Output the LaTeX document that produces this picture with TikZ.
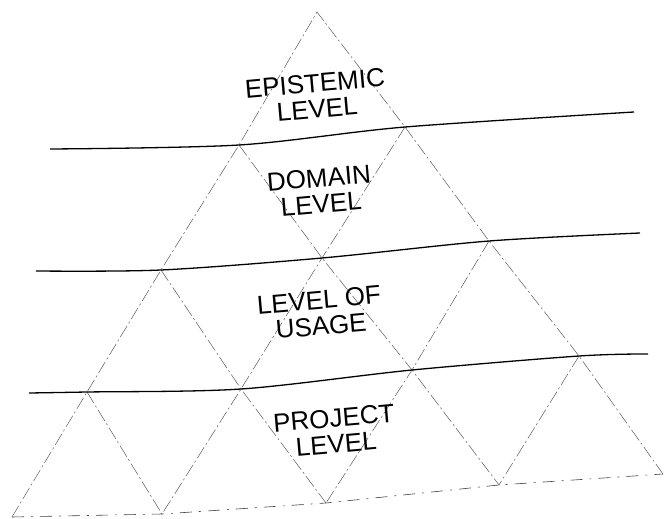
\documentclass[tikz,border=0pt]{standalone}
\usepackage{fontspec}
\setmainfont{Liberation Sans}
\begin{document}
\begin{tikzpicture}[x=1pt,y=-1pt,
  grid/.style={draw=black!65, line width=0.5pt, dash pattern=on 13pt off 3pt on 2pt off 3pt},
  band/.style={draw=black, line width=1.3pt},
  base/.style={draw=black!75, line width=0.6pt, dash pattern=on 12pt off 7pt on 2pt off 7pt},
  levellabel/.style={align=center, font=\fontsize{26}{26}\selectfont, rotate=5, inner sep=0pt}]
\useasboundingbox (0,0) rectangle (669,519);
% vertices of the triangular grid, row by row
\coordinate (a)  at (317,12);
\coordinate (b1) at (239,145);
\coordinate (b2) at (405,127);
\coordinate (c1) at (161,270);
\coordinate (c2) at (322,258);
\coordinate (c3) at (489,241);
\coordinate (d1) at (87,392);
\coordinate (d2) at (241,389);
\coordinate (d3) at (412,370);
\coordinate (d4) at (579,356);
\coordinate (e1) at (12,517);
\coordinate (e2) at (162,514);
\coordinate (e3) at (326,503);
\coordinate (e4) at (499,485);
\coordinate (e5) at (663,474);
% free ends of the level boundaries
\coordinate (h1L) at (50,149);
\coordinate (h1R) at (634,112);
\coordinate (h2L) at (36,271);
\coordinate (h2R) at (640,233);
\coordinate (h3L) at (29,393);
\coordinate (h3R) at (648,354);
% outer edges
\draw[grid] (e1) -- (d1) -- (c1) -- (b1) -- (a) -- (b2) -- (c3) -- (d4) -- (e5);
% inner diagonals
\draw[grid] (b1) -- (c2) -- (d3) -- (e4);
\draw[grid] (c1) -- (d2) -- (e3);
\draw[grid] (d1) -- (e2);
\draw[grid] (b2) -- (c2) -- (d2) -- (e2);
\draw[grid] (c3) -- (d3) -- (e3);
\draw[grid] (d4) -- (e4);
% base
\draw[base] (e1) -- (e2) -- (e3) -- (e4) -- (e5);
% level boundaries
\draw[band] plot[smooth, tension=0.5] coordinates {(h1L) (b1) (b2) (h1R)};
\draw[band] plot[smooth, tension=0.5] coordinates {(h2L) (c1) (c2) (c3) (h2R)};
\draw[band] plot[smooth, tension=0.5] coordinates {(h3L) (d1) (d2) (d3) (d4) (h3R)};
% level names
\node[levellabel] (epi) at (316,96) {EPISTEMIC\\LEVEL};
\node[levellabel] (dom) at (320,191) {DOMAIN\\LEVEL};
\node[levellabel] (use) at (320,313) {LEVEL OF\\USAGE};
\node[levellabel] (pro) at (335,431) {PROJECT\\LEVEL};
\end{tikzpicture}
\end{document}
